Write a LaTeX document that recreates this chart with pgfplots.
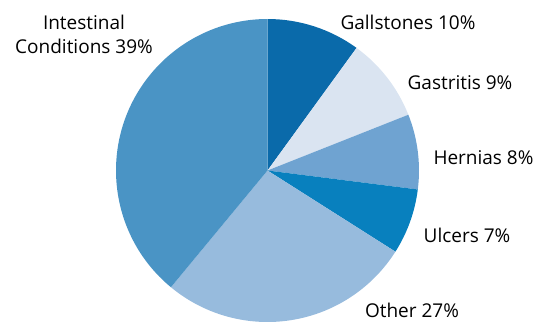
\documentclass[border=0pt]{standalone}
\usepackage{pgfplots}
\usepackage{pgfplotstable}
\pgfplotsset{compat=1.18}
\usepackage{fontspec}
\setmainfont{Open Sans}
\definecolor{cA}{HTML}{0A6AAA}
\definecolor{cB}{HTML}{DAE4F1}
\definecolor{cC}{HTML}{6FA3D1}
\definecolor{cD}{HTML}{0880BE}
\definecolor{cE}{HTML}{97BBDD}
\definecolor{cF}{HTML}{4A94C5}
\pgfplotstableread{
name value color
Gallstones 10 cA
Gastritis 9 cB
Hernias 8 cC
Ulcers 7 cD
Other 27 cE
Intestinal 39 cF
}\piedata
\begin{document}
\begin{tikzpicture}
\useasboundingbox (0pt,0pt) rectangle (537pt,322pt);
\begin{axis}[at={(267.5pt,151.5pt)}, anchor=origin, x=151.5pt, y=151.5pt,
  xmin=-1, xmax=1, ymin=-1, ymax=1, hide axis, clip=false]
\gdef\cum{90}
\pgfplotsforeachungrouped \i in {0,...,5}{%
  \pgfplotstablegetelem{\i}{value}\of\piedata \let\v\pgfplotsretval
  \pgfplotstablegetelem{\i}{color}\of\piedata \let\c\pgfplotsretval
  \pgfmathsetmacro\endang{\cum-3.6*\v}%
  \edef\temp{\noexpand\fill[\c] (axis cs:0,0) -- (axis cs:{cos(\cum)},{sin(\cum)}) arc[start angle=\cum, end angle=\endang, radius=151.5pt] -- cycle;}%
  \temp
  \global\let\cum\endang
}
\end{axis}
\begin{scope}[every node/.style={inner sep=0pt, anchor=base, font=\fontsize{19}{23}\selectfont}]
\node at (84pt,292pt) {Intestinal};
\node at (84pt,269pt) {Conditions 39\%};
\node at (408pt,292pt) {Gallstones 10\%};
\node at (460pt,233pt) {Gastritis 9\%};
\node at (483.5pt,158pt) {Hernias 8\%};
\node at (467pt,80pt) {Ulcers 7\%};
\node at (412pt,5pt) {Other 27\%};
\end{scope}
\end{tikzpicture}
\end{document}
